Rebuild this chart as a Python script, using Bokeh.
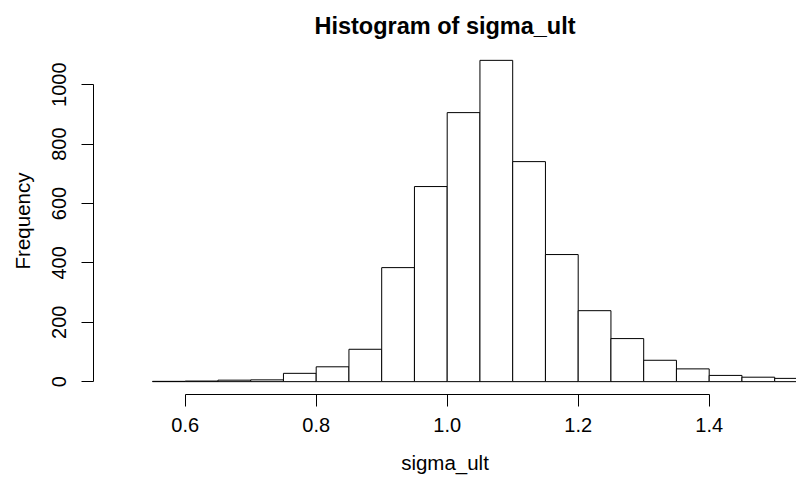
from bokeh.plotting import figure
from bokeh.models import Range1d, FixedTicker
from bokeh.embed import file_html
from bokeh.resources import INLINE

# Histogram data (bin edges, counts)
bin_edges = [0.55, 0.60, 0.65, 0.70, 0.75, 0.80, 0.85, 0.90, 0.95, 1.00, 1.05,
             1.10, 1.15, 1.20, 1.25, 1.30, 1.35, 1.40, 1.45, 1.50, 1.55]
counts = [1, 2, 5, 6, 28, 50, 109, 384, 657, 906, 1082,
          741, 428, 239, 145, 72, 43, 21, 15, 11]
x_ticks = [0.6, 0.8, 1.0, 1.2, 1.4]
y_ticks = [0, 200, 400, 600, 800, 1000]
x_tick_labels = {0.6: "0.6", 0.8: "0.8", 1.0: "1.0", 1.2: "1.2", 1.4: "1.4"}

FONT = "Liberation Sans"

ymax = max(counts)
p = figure(width=796, height=477, output_backend="svg", toolbar_location=None,
           x_range=Range1d(0.46, 1.5333), y_range=Range1d(-0.04 * ymax, 1.04 * ymax),
           title="Histogram of sigma_ult",
           min_border_left=93, min_border_right=0, min_border_top=47, min_border_bottom=83)

p.quad(left=bin_edges[:-1], right=bin_edges[1:], top=counts, bottom=0,
       fill_color="white", line_color="black", line_width=1)

p.outline_line_color = None
p.grid.visible = False
p.background_fill_color = "white"
p.border_fill_color = "white"

p.title.align = "center"
p.title.vertical_align = "top"
p.title.text_font = FONT
p.title.text_font_size = "23.5px"
p.title.text_font_style = "bold"
p.title.text_color = "black"
p.title.standoff = 14

xa = p.xaxis[0]
xa.ticker = FixedTicker(ticks=x_ticks)
xa.major_label_overrides = x_tick_labels
xa.bounds = (x_ticks[0], x_ticks[-1])
xa.axis_label = "sigma_ult"

ya = p.yaxis[0]
ya.ticker = FixedTicker(ticks=y_ticks)
ya.bounds = (y_ticks[0], y_ticks[-1])
ya.axis_label = "Frequency"
ya.major_label_orientation = "vertical"

for ax in (xa, ya):
    ax.axis_line_color = "black"
    ax.axis_line_width = 1
    ax.major_tick_line_color = "black"
    ax.major_tick_out = 12
    ax.major_tick_in = 0
    ax.minor_tick_line_color = None
    ax.major_label_text_font = FONT
    ax.major_label_text_font_size = "20px"
    ax.major_label_text_color = "black"
    ax.axis_label_text_font = FONT
    ax.axis_label_text_font_size = "20.5px"
    ax.axis_label_text_font_style = "normal"
    ax.axis_label_text_color = "black"

xa.major_label_standoff = 11
xa.axis_label_standoff = 16
ya.major_label_standoff = 15
ya.axis_label_standoff = 16

open("out.html", "w").write(file_html(p, INLINE))
